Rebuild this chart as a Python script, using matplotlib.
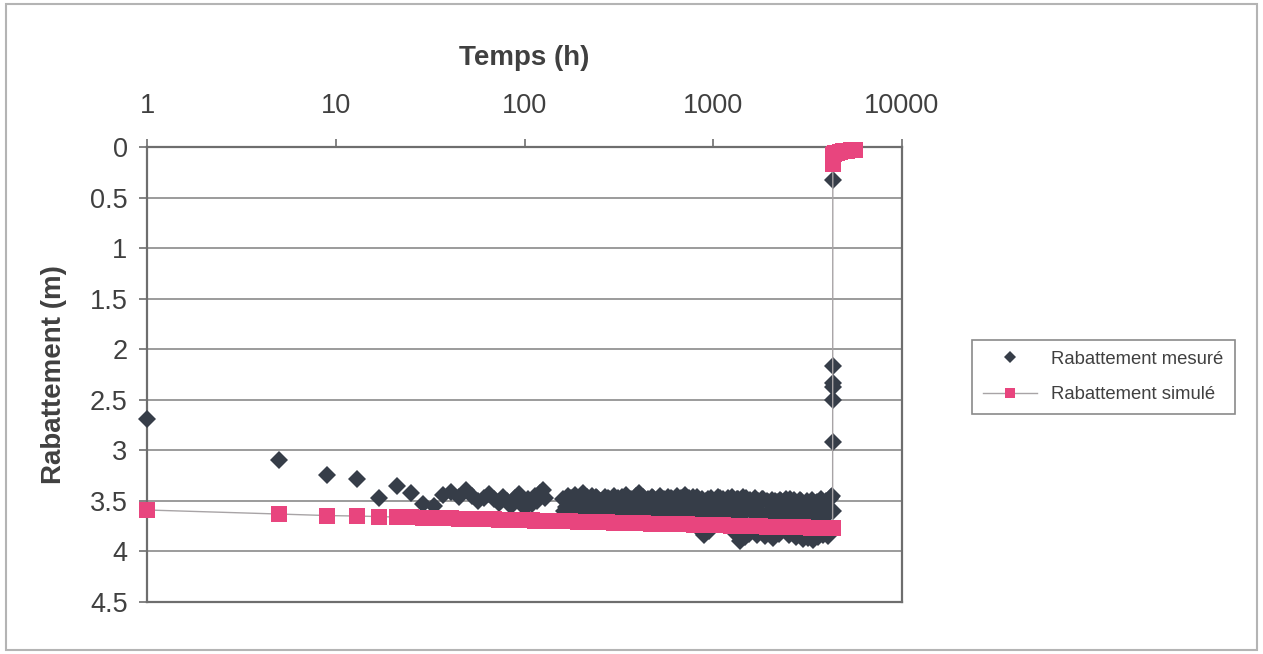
import matplotlib
matplotlib.use("Agg")
import matplotlib.pyplot as plt
from matplotlib.patches import Rectangle
from matplotlib.ticker import FixedLocator, NullLocator, FixedFormatter

# ---------------- data ----------------
# measured drawdown, main sampling
temps_mesure = [
    1, 5, 9, 13, 17, 21, 25, 29, 33, 37, 41, 45, 49, 53, 57, 61, 65, 69, 73, 77,
    81, 85, 89, 93, 97, 101, 105, 109, 113, 117, 121, 125, 129,
    160, 165, 170, 175, 180, 185, 191, 197, 203, 209, 215, 222, 229, 236, 243, 250,
    258, 266, 274, 282, 290, 299, 308, 317, 327, 337, 347, 357, 368, 379, 390, 402,
    414, 426, 439, 452, 466, 480, 494, 509, 524, 540, 556, 573, 590, 608, 626, 645,
    664, 684, 705, 726, 748, 770, 793, 817, 842, 867, 893, 920, 947, 976, 1005, 1035,
    1066, 1098, 1131, 1165, 1200, 1236, 1273, 1311, 1350, 1391, 1432, 1475, 1520,
    1565, 1612, 1661, 1710, 1762, 1815, 1869, 1925, 1983, 2042, 2103, 2166, 2231,
    2298, 2367, 2438, 2511, 2587, 2664, 2744, 2826, 2911, 2998, 3088, 3181, 3276,
    3375, 3476, 3580, 3688, 3798, 3912, 4030, 4150, 4250, 4290,
    4292, 4294, 4296, 4297, 4298, 4300,
]
rabattement_mesure = [
    2.69, 3.10, 3.24, 3.28, 3.47, 3.35, 3.42, 3.53, 3.55, 3.44, 3.41, 3.46, 3.39, 3.45, 3.50, 3.47, 3.43, 3.48, 3.52, 3.46,
    3.50, 3.55, 3.47, 3.43, 3.51, 3.57, 3.48, 3.53, 3.45, 3.50, 3.42, 3.39, 3.47,
    3.48, 3.56, 3.45, 3.60, 3.50, 3.44, 3.58, 3.47, 3.42, 3.55, 3.46, 3.60, 3.45, 3.52, 3.47, 3.58,
    3.50, 3.46, 3.60, 3.48, 3.55, 3.45, 3.59, 3.50, 3.46, 3.57, 3.44, 3.52, 3.48, 3.60, 3.45, 3.42,
    3.55, 3.46, 3.59, 3.48, 3.52, 3.47, 3.61, 3.49, 3.45, 3.57, 3.50, 3.46, 3.60, 3.48, 3.53, 3.45,
    3.58, 3.49, 3.44, 3.60, 3.47, 3.55, 3.50, 3.46, 3.62, 3.48, 3.84, 3.50, 3.80, 3.47, 3.58, 3.49,
    3.46, 3.60, 3.48, 3.55, 3.47, 3.62, 3.50, 3.82, 3.48, 3.90, 3.46, 3.86, 3.57,
    3.49, 3.60, 3.47, 3.84, 3.52, 3.48, 3.85, 3.50, 3.82, 3.49, 3.60, 3.51, 3.83,
    3.50, 3.58, 3.48, 3.84, 3.52, 3.49, 3.86, 3.53, 3.50, 3.88, 3.52, 3.87, 3.54,
    3.89, 3.52, 3.86, 3.50, 3.84, 3.53, 3.85, 3.48, 3.45, 3.60,
    2.92, 2.50, 2.37, 2.33, 2.17, 0.33,
]

# measured drawdown, intermediate readings of the dense period
temps_mesure_b = [
    162, 167, 172, 177, 182, 188, 194, 200, 206, 212,
    218, 225, 232, 239, 246, 254, 262, 270, 278, 286,
    294, 303, 312, 322, 332, 342, 352, 362, 373, 384,
    396, 408, 420, 432, 445, 459, 473, 487, 501, 516,
    532, 548, 564, 581, 599, 617, 635, 654, 674, 694,
    715, 737, 759, 781, 805, 829, 854, 880, 906, 933,
    961, 990, 1020, 1050, 1082, 1114, 1148, 1182, 1218, 1254,
    1292, 1330, 1370, 1411, 1453, 1497, 1542, 1588, 1636, 1685,
    1736, 1788, 1842, 1897, 1954, 2012, 2072, 2134, 2198, 2264,
    2332, 2402, 2474, 2549, 2625, 2704, 2785, 2868, 2954, 3043,
    3134, 3228, 3325, 3425, 3528, 3634, 3743, 3855, 3971, 4090,
    4200,
]
rabattement_mesure_b = [
    3.60, 3.50, 3.62, 3.47, 3.58, 3.61, 3.50, 3.60, 3.57, 3.48,
    3.61, 3.49, 3.59, 3.46, 3.62, 3.50, 3.60, 3.55, 3.47, 3.61,
    3.50, 3.58, 3.47, 3.62, 3.59, 3.49, 3.61, 3.56, 3.60, 3.50,
    3.58, 3.62, 3.48, 3.60, 3.50, 3.61, 3.46, 3.59, 3.50, 3.62,
    3.57, 3.48, 3.60, 3.61, 3.47, 3.59, 3.50, 3.62, 3.47, 3.60,
    3.63, 3.49, 3.60, 3.46, 3.62, 3.58, 3.50, 3.82, 3.61, 3.48,
    3.64, 3.60, 3.50, 3.62, 3.47, 3.65, 3.58, 3.50, 3.63, 3.46,
    3.61, 3.48, 3.64, 3.50, 3.62, 3.47, 3.83, 3.60, 3.49, 3.64,
    3.50, 3.62, 3.48, 3.64, 3.51, 3.62, 3.87, 3.50, 3.64, 3.49,
    3.62, 3.50, 3.65, 3.48, 3.63, 3.52, 3.64, 3.49, 3.83, 3.63,
    3.50, 3.64, 3.49, 3.65, 3.51, 3.63, 3.48, 3.65, 3.50, 3.62,
    3.46,
]

temps_simule = [
    1, 5, 9, 13, 17, 21, 25, 29, 33, 37, 41, 45, 49, 53, 57, 61, 65, 69, 73, 77, 81,
    85, 89, 93, 97, 101, 105, 109, 113, 117, 121, 125, 129, 133,
    160, 175, 191, 209, 229, 250, 274, 299, 327, 357, 390, 426, 466, 509, 556, 608,
    664, 726, 793, 867, 947, 1035, 1131, 1236, 1350, 1475, 1612, 1762, 1925, 2103,
    2298, 2511, 2744, 2998, 3276, 3580, 3912, 4150, 4290,
    4300, 4305, 4315, 4330, 4360, 4420, 4520, 4680, 4880, 5100, 5350, 5650,
]
rabattement_simule = [
    3.590, 3.630, 3.645, 3.650, 3.655, 3.660, 3.664, 3.667, 3.669, 3.672, 3.674, 3.676, 3.677, 3.679, 3.680, 3.682, 3.683, 3.684, 3.685, 3.686, 3.687,
    3.688, 3.689, 3.690, 3.691, 3.692, 3.692, 3.693, 3.694, 3.695, 3.695, 3.696, 3.697, 3.697,
    3.701, 3.703, 3.705, 3.706, 3.708, 3.710, 3.712, 3.714, 3.716, 3.718, 3.720, 3.722, 3.724, 3.726, 3.727, 3.729,
    3.731, 3.733, 3.735, 3.737, 3.739, 3.741, 3.743, 3.745, 3.746, 3.748, 3.750, 3.752, 3.754, 3.756,
    3.758, 3.760, 3.761, 3.763, 3.765, 3.767, 3.769, 3.770, 3.771,
    0.17, 0.13, 0.10, 0.08, 0.07, 0.06, 0.055, 0.05, 0.04, 0.035, 0.03, 0.025,
]

x_ticks = [1, 10, 100, 1000, 10000]
x_tick_labels = ["1", "10", "100", "1000", "10000"]
y_ticks = [0, 0.5, 1, 1.5, 2, 2.5, 3, 3.5, 4, 4.5]
y_tick_labels = ["0", "0.5", "1", "1.5", "2", "2.5", "3", "3.5", "4", "4.5"]

label_mesure = "Rabattement mesuré"
label_simule = "Rabattement simulé"
titre_x = "Temps (h)"
titre_y = "Rabattement (m)"

# ---------------- figure ----------------
plt.rcParams['font.family'] = ['Liberation Sans', 'DejaVu Sans']
W, H = 1263, 654
fig = plt.figure(figsize=(W / 100, H / 100), dpi=100)
fig.patch.set_facecolor('white')

ax = fig.add_axes([147 / W, 1 - 602 / H, 755 / W, 455 / H])

text_col = '#404040'
axis_col = '#6e6e6e'
c_mes = '#363d48'
c_sim = '#e8457e'

ax.plot(temps_mesure_b, rabattement_mesure_b, linestyle='none', marker='D', markersize=9,
        color=c_mes, markeredgewidth=0, clip_on=False, zorder=3)
ax.plot(temps_mesure, rabattement_mesure, linestyle='none', marker='D', markersize=9,
        color=c_mes, markeredgewidth=0, label=label_mesure, clip_on=False, zorder=3)
ax.plot(temps_simule, rabattement_simule, linestyle='-', linewidth=1.0, color='#a8a4a6',
        marker='s', markersize=12, markerfacecolor=c_sim, markeredgewidth=0,
        label=label_simule, clip_on=False, zorder=4)

ax.set_xscale('log')
ax.set_xlim(1, 10000)
ax.set_ylim(4.5, 0)

ax.xaxis.set_major_locator(FixedLocator(x_ticks))
ax.xaxis.set_major_formatter(FixedFormatter(x_tick_labels))
ax.xaxis.set_minor_locator(NullLocator())
ax.yaxis.set_major_locator(FixedLocator(y_ticks))
ax.yaxis.set_major_formatter(FixedFormatter(y_tick_labels))

ax.xaxis.tick_top()
ax.tick_params(axis='x', which='major', direction='out', length=6, width=1.2,
               color=axis_col, labelsize=19.5, labelcolor=text_col, pad=14)
ax.tick_params(axis='y', which='major', direction='out', length=6, width=1.2,
               color=axis_col, labelsize=19.5, labelcolor=text_col, pad=8)

ax.grid(axis='y', color='#8a8a8a', linewidth=1.2)
ax.set_axisbelow(True)
for s in ax.spines.values():
    s.set_color(axis_col)
    s.set_linewidth(1.6)

ax.xaxis.set_label_position('top')
ax.set_xlabel(titre_x, fontsize=20, fontweight='bold', color=text_col)
ax.xaxis.set_label_coords(0.5, (H - 58 - 52) / 455)
ax.xaxis.label.set_va('center')

ax.set_ylabel(titre_y, fontsize=20, fontweight='bold', color=text_col)
ax.yaxis.set_label_coords((54 - 147) / 755, 0.5)
ax.yaxis.label.set_va('center')

leg = ax.legend(loc='center left', bbox_to_anchor=(972 / W, 1 - 377 / H),
                bbox_transform=fig.transFigure, borderaxespad=0, fontsize=13.3,
                frameon=True, fancybox=False, edgecolor='#8a8a8a', framealpha=1,
                handlelength=2.9, handletextpad=0.8, labelspacing=1.0,
                borderpad=0.6, markerscale=0.65)
leg.get_frame().set_linewidth(1.2)
for t in leg.get_texts():
    t.set_color(text_col)

fig.patches.append(Rectangle((0.005, 0.006), 0.99, 0.988, transform=fig.transFigure,
                             fill=False, edgecolor='#b4b4b4', linewidth=1.5))

fig.savefig('out.png', dpi=100, facecolor='white')
